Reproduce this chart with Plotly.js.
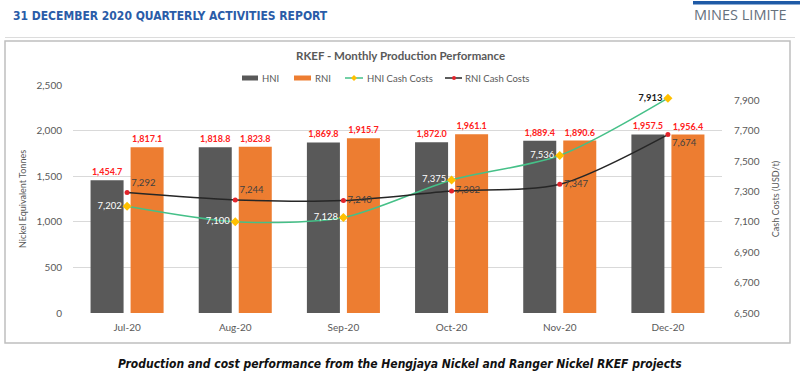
<!DOCTYPE html>
<html>
<head>
<meta charset="utf-8">
<script src="https://cdn.plot.ly/plotly-3.0.1.min.js"></script>
<style>html,body{margin:0;padding:0;background:#fff;}#chart{width:800px;height:377px;}</style>
</head>
<body>
<div id="chart"></div>
<script>
// ---- data ----
const months = ['Jul-20', 'Aug-20', 'Sep-20', 'Oct-20', 'Nov-20', 'Dec-20'];
const hniTonnes = [1454.7, 1818.8, 1869.8, 1872.0, 1889.4, 1957.5];
const rniTonnes = [1817.1, 1823.8, 1915.7, 1961.1, 1890.6, 1956.4];
const hniCashCosts = [7202, 7100, 7128, 7375, 7536, 7913];
const rniCashCosts = [7292, 7244, 7240, 7302, 7347, 7674];
const seriesNames = ['HNI', 'RNI', 'HNI Cash Costs', 'RNI Cash Costs'];

// ---- layout geometry (pixels) ----
const W = 800, H = 377;
const M = {l: 73, r: 78, t: 85, b: 64};
const PW = W - M.l - M.r, PH = H - M.t - M.b;
const px = v => (v - M.l) / PW;          // pixel x -> paper x
const py = v => (H - M.b - v) / PH;      // pixel y -> paper y

const FONT = 'Lato, "Open Sans", "Liberation Sans", sans-serif';
const NARROW = '"DejaVu Sans Condensed", "Liberation Sans", sans-serif';
const GREY = '#595959';
const C_HNI = '#595959', C_RNI = '#ed7d31', C_GREEN = '#45c088', C_GOLD = '#ffc000', C_BLACK = '#262626', C_RED = '#e3242b';

const traces = [
  {
    type: 'bar', name: seriesNames[0], x: months, y: hniTonnes,
    marker: {color: C_HNI},
    texttemplate: '%{y:,.1f}', textposition: 'outside', constraintext: 'none', cliponaxis: false,
    textfont: {family: FONT, size: 9, color: '#ff2020', weight: 'bold'},
    showlegend: false, hoverinfo: 'x+y'
  },
  {
    type: 'bar', name: seriesNames[1], x: months, y: rniTonnes,
    marker: {color: C_RNI},
    texttemplate: '%{y:,.1f}', textposition: 'outside', constraintext: 'none', cliponaxis: false,
    textfont: {family: FONT, size: 9, color: '#ff2020', weight: 'bold'},
    showlegend: false, hoverinfo: 'x+y'
  },
  {
    type: 'scatter', name: seriesNames[2], x: months, y: hniCashCosts, yaxis: 'y2',
    mode: 'lines+markers+text', cliponaxis: false,
    line: {color: C_GREEN, width: 1.5, shape: 'spline', smoothing: 0.8},
    marker: {symbol: 'diamond', size: 7, color: C_GOLD},
    texttemplate: '%{y:,}', textposition: 'middle left',
    textfont: {family: FONT, size: 9.5,
      color: ['#ffffff', '#ffffff', '#ffffff', '#ffffff', '#ffffff', '#1a1a1a'],
      weight: ['normal', 'normal', 'normal', 'normal', 'normal', 'bold']},
    showlegend: false
  },
  {
    type: 'scatter', name: seriesNames[3], x: months, y: rniCashCosts, yaxis: 'y2',
    mode: 'lines+markers+text', cliponaxis: false,
    line: {color: C_BLACK, width: 1.5, shape: 'spline', smoothing: 0.8},
    marker: {symbol: 'circle', size: 5, color: C_RED},
    texttemplate: '%{y:,}',
    textposition: ['top right', 'top right', 'middle right', 'middle right', 'middle right', 'bottom right'],
    textfont: {family: FONT, size: 9.5, color: '#404040'},
    showlegend: false
  }
];

// ---- manual legend (tight Excel-style) ----
const LY = 78;
function rectPx(x0, x1, y0, y1, color) {
  return {type: 'rect', xref: 'paper', yref: 'paper', x0: px(x0), x1: px(x1), y0: py(y1), y1: py(y0),
          fillcolor: color, line: {width: 0}};
}
function linePx(x0, y0, x1, y1, color, w) {
  return {type: 'line', xref: 'paper', yref: 'paper', x0: px(x0), x1: px(x1), y0: py(y0), y1: py(y1),
          line: {color: color, width: w}};
}
function diamondPx(cx, cy, r, color) {
  const p = [[cx, cy - r], [cx + r, cy], [cx, cy + r], [cx - r, cy]]
    .map((q, i) => (i ? 'L' : 'M') + px(q[0]) + ',' + py(q[1])).join(' ') + ' Z';
  return {type: 'path', xref: 'paper', yref: 'paper', path: p, fillcolor: color, line: {width: 0}};
}
function circlePx(cx, cy, r, color) {
  return {type: 'circle', xref: 'paper', yref: 'paper', x0: px(cx - r), x1: px(cx + r), y0: py(cy + r), y1: py(cy - r),
          fillcolor: color, line: {width: 0}};
}

const shapes = [
  // report header rule and blue brand bar
  linePx(5, 37.5, 795, 37.5, '#dcdcdc', 1),
  rectPx(693, 800, 1, 4.5, '#1f5aa6'),
  // chart frame
  {type: 'rect', xref: 'paper', yref: 'paper', x0: px(5), x1: px(790), y0: py(343), y1: py(41),
   line: {color: '#bfbfbf', width: 1.5}, fillcolor: 'rgba(0,0,0,0)', layer: 'below'},
  // legend swatches
  rectPx(242, 258, LY - 2.5, LY + 2.5, C_HNI),
  rectPx(294, 311, LY - 2.5, LY + 2.5, C_RNI),
  linePx(345, LY, 363, LY, C_GREEN, 1.5),
  diamondPx(354, LY, 3, C_GOLD),
  linePx(445, LY, 462, LY, C_BLACK, 1.5),
  circlePx(454, LY, 2, C_RED)
];

function txt(text, x, y, opts) {
  return Object.assign({text: text, xref: 'paper', yref: 'paper', x: px(x), y: py(y),
    xanchor: 'left', yanchor: 'middle', showarrow: false,
    font: {family: FONT, size: 9.5, color: GREY}}, opts || {});
}

const annotations = [
  txt('31 DECEMBER 2020 QUARTERLY ACTIVITIES REPORT', 11, 16,
      {font: {family: NARROW, size: 12, color: '#2a5ca8', weight: 'bold'}}),
  txt('MINES LIMITE', 692, 15,
      {font: {family: '"Open Sans", "Noto Sans", sans-serif', size: 14.5, color: '#66717d'}}),
  txt('RKEF - Monthly Production Performance', 400, 55,
      {xanchor: 'center', font: {family: FONT, size: 11.5, color: GREY, weight: 'bold'}}),
  txt(seriesNames[0], 260, LY),
  txt(seriesNames[1], 313, LY),
  txt(seriesNames[2], 365, LY),
  txt(seriesNames[3], 463, LY),
  txt('<i>Production and cost performance from the Hengjaya Nickel and Ranger Nickel RKEF projects</i>', 400, 364,
      {xanchor: 'center', font: {family: NARROW, size: 12, color: '#111111', weight: 'bold'}})
];

const layout = {
  width: W, height: H,
  margin: M,
  paper_bgcolor: '#ffffff', plot_bgcolor: '#ffffff',
  font: {family: FONT, color: GREY, size: 10},
  barmode: 'group', bargap: 0.26, bargroupgap: 0.175,
  showlegend: false,
  xaxis: {
    type: 'category', range: [-0.5, 5.5], fixedrange: true,
    showgrid: false, showline: false, zeroline: false,
    ticks: 'outside', ticklen: 5, tickcolor: 'rgba(0,0,0,0)',
    tickfont: {family: FONT, size: 10, color: GREY}
  },
  yaxis: {
    range: [0, 2500], dtick: 500, tickformat: ',', fixedrange: true,
    showgrid: true, gridcolor: '#d9d9d9', gridwidth: 1, zeroline: false, showline: false,
    ticks: 'outside', ticklen: 8, tickcolor: 'rgba(0,0,0,0)',
    tickfont: {family: FONT, size: 10, color: GREY},
    title: {text: 'Nickel Equivalent Tonnes', font: {family: FONT, size: 9, color: GREY}, standoff: 8}
  },
  yaxis2: {
    overlaying: 'y', side: 'right',
    range: [6500, 8000], tick0: 6500, dtick: 200, tickformat: ',', fixedrange: true,
    showgrid: false, zeroline: false, showline: false,
    ticks: 'outside', ticklen: 9, tickcolor: 'rgba(0,0,0,0)',
    tickfont: {family: FONT, size: 10, color: GREY},
    title: {text: 'Cash Costs (USD/t)', font: {family: FONT, size: 9, color: GREY}, standoff: 14}
  },
  shapes: shapes,
  annotations: annotations
};

Plotly.newPlot('chart', traces, layout, {displayModeBar: false, staticPlot: true});
</script>
</body>
</html>
